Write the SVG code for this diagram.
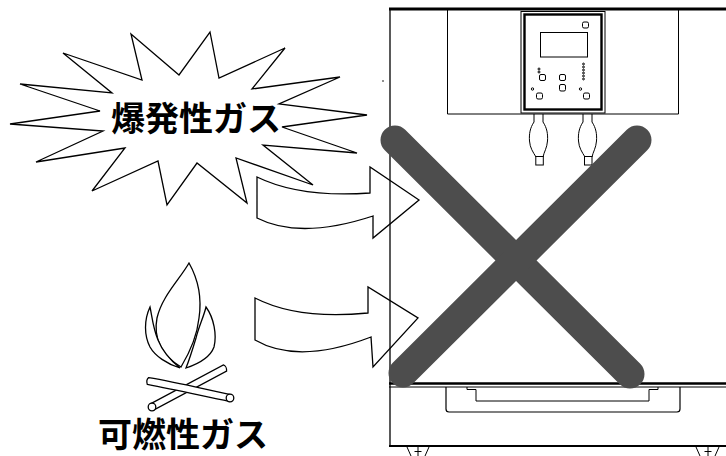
<svg xmlns="http://www.w3.org/2000/svg" width="726" height="456" viewBox="0 0 726 456">
  <style>
    .ln { fill: none; stroke: #000; stroke-width: 1.2; stroke-linejoin: miter; }
    .sh { fill: #fff; stroke: #000; stroke-width: 1.3; stroke-linejoin: miter; }
    .th { fill: none; stroke: #000; stroke-width: 1; }
    .lbl { font-family: "Noto Sans CJK JP", "Noto Sans", sans-serif; font-weight: 700; font-size: 34px; fill: #000; }
    .cross { stroke: #4d4d4d; stroke-width: 29; stroke-linecap: round; fill: none; }
  </style>

  <!-- explosive gas burst -->
  <g id="burst">
    <polygon class="sh" points="10,124 100,111 20,84 112,93 63,53 142,80 131,34 179,75 210,32 219,78 285,48 252,89 340,77 279,104 367,115 282,127 357,153 263,145 313,185 236,158 247,203 197,163 167,205 158,161 92,191 125,148 36,162 103,131"/>
    <text class="lbl" x="196" y="131" text-anchor="middle">爆発性ガス</text>
  </g>

  <!-- camp fire -->
  <g id="fire">
    <path class="sh" d="M189,263 C180,279 162,296 157,318 C153,338 162,356 181,367 C190,352 197,337 199,318 C202,298 198,279 189,263 Z"/>
    <path class="sh" d="M150,307 C144,320 144,335 150,347 C155,356 167,364 180,368 C170,360 162,350 158,340 C153,328 152,316 150,307 Z"/>
    <path class="sh" d="M206,307 C214,318 217,335 214,347 C210,358 198,364 186,368 C190,358 193,348 196,338 C199,326 204,316 206,307 Z"/>
    <path class="sh" d="M150.4,403.9 L223.4,364.9 C225.5,365.5 226.8,368.5 226.6,371.1 L153.6,410.1 Z"/>
    <circle class="sh" cx="152" cy="407" r="3.8"/>
    <path class="sh" d="M148.7,377.6 C176,382 204,389 230.7,394.6 L229.3,401.4 C203,396 176,390 147.3,384.4 C146.5,382 147,379 148.7,377.6 Z"/>
    <circle class="sh" cx="230" cy="398" r="3.8"/>
    <text class="lbl" x="183" y="447" text-anchor="middle">可燃性ガス</text>
  </g>

  <!-- curved block arrows -->
  <g id="connectors">
    <path class="sh" d="M257,177 Q300,198 370,193 L370,167 L419,200 L373,238 L373,216 Q300,240 257,218 Z"/>
    <path class="sh" d="M255,298 Q298,320 368,313 L368,287 L418,318 L373,367 L371,337 Q298,365 255,340 Z"/>
  </g>

  <!-- incubator cabinet -->
  <g id="cabinet">
    <line x1="389" y1="9" x2="726" y2="9" stroke="#000" stroke-width="3"/>
    <line x1="390" y1="9" x2="390" y2="447" stroke="#000" stroke-width="1.3"/>
    <polyline class="th" points="447.5,9 447.5,114 678.5,114 678.5,9"/>
    <circle cx="383" cy="81" r="0.8" fill="#000"/>

    <!-- control panel -->
    <rect x="521" y="11.5" width="84" height="101.5" class="th"/>
    <rect x="524.5" y="14.5" width="77" height="95" fill="none" stroke="#000" stroke-width="2.4"/>
    <rect x="540.5" y="32.5" width="47" height="24.5" class="th"/>
    <rect x="582.5" y="22" width="6" height="6" rx="1.5" class="th"/>
    <rect x="539.5" y="74.5" width="6" height="6" rx="1.5" class="th"/>
    <rect x="559.5" y="74.5" width="6" height="6" rx="1.5" class="th"/>
    <rect x="559.5" y="84.5" width="6" height="6.5" rx="1.5" class="th"/>
    <rect x="536.5" y="93" width="6" height="6" rx="1.5" class="th"/>
    <rect x="583.5" y="93" width="6" height="6" rx="1.5" class="th"/>
    <circle cx="532.5" cy="89" r="1.2" class="th"/>
    <circle cx="580.5" cy="89" r="1.2" class="th"/>
    <circle cx="539" cy="69" r="1" class="th"/>
    <circle cx="539" cy="72" r="1" class="th"/>
    <g class="th">
      <circle cx="583.5" cy="64" r="0.9"/>
      <circle cx="583.5" cy="67" r="0.9"/>
      <circle cx="583.5" cy="70" r="0.9"/>
      <circle cx="583.5" cy="73" r="0.9"/>
      <circle cx="583.5" cy="76" r="0.9"/>
      <circle cx="583.5" cy="79" r="0.9"/>
    </g>

    <!-- sensor bulbs -->
    <path class="th" d="M534,114 L534,122 C530,128 529,134 529.5,141 C530,148 533,152 536,157 M543,114 L543,122 C547,128 548,134 547.5,141 C547,148 544,152 543,157"/>
    <rect x="535.8" y="156.5" width="7.5" height="8.5" class="th"/>
    <path class="th" d="M583,114 L583,122 C579,128 578,134 578.5,141 C579,148 582,152 585,157 M592,114 L592,122 C596,128 597,134 596.5,141 C596,148 593,152 592,157"/>
    <rect x="584.5" y="156.5" width="7.5" height="8.5" class="th"/>

    <!-- base with drawer -->
    <line x1="389" y1="383.5" x2="726" y2="383.5" stroke="#000" stroke-width="2.5"/>
    <line x1="389" y1="387" x2="726" y2="387" stroke="#000" stroke-width="1"/>
    <path class="ln" d="M446,387 V409 Q446,412 449,412 H677 Q680,412 680,409 V387"/>
    <polyline class="th" points="467,387 467,389.5 476,389.5 476,401 649,401 649,389.5 658,389.5 658,387"/>
    <line x1="389" y1="446" x2="726" y2="446" stroke="#000" stroke-width="2"/>

    <!-- feet -->
    <g class="th">
      <path d="M407,447 L411,456 M429,447 L425,456 M418,447 V456 M414.5,451.5 H421.5"/>
      <path d="M696,447 L700,456 M719,447 L715,456 M708,447 V456 M704.5,451.5 H711.5"/>
    </g>
  </g>

  <!-- prohibition cross -->
  <g id="cross">
    <line class="cross" x1="395" y1="140" x2="630" y2="374"/>
    <line class="cross" x1="637" y1="140" x2="403" y2="373"/>
  </g>
</svg>
